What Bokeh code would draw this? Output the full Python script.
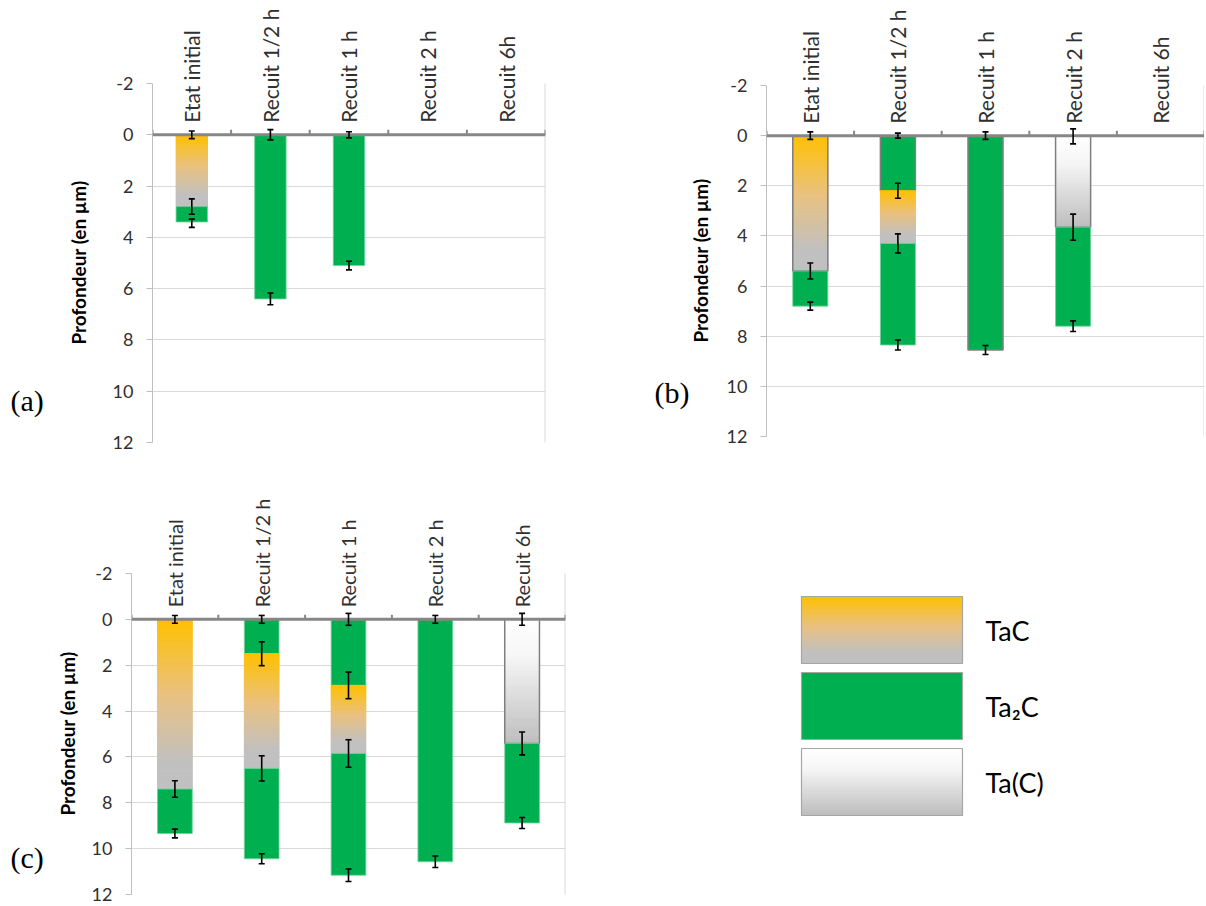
import numpy as np
from math import pi
from bokeh.plotting import figure
from bokeh.models import (Range1d, FixedTicker, Span, LabelSet,
                          ColumnDataSource, Whisker, TeeHead)
from bokeh.layouts import column, row
from bokeh.embed import file_html
from bokeh.resources import INLINE
from bokeh.core.properties import value

# ---------------- data ----------------
categories = ["Etat initial", "Recuit 1/2 h", "Recuit 1 h", "Recuit 2 h", "Recuit 6h"]
depth_ticks = [-2, 0, 2, 4, 6, 8, 10, 12]
depth_label = "Profondeur (en \u00b5m)"
phases = ["TaC", "Ta2C", "Ta(C)"]
phase_labels = ["TaC", "Ta\u2082C", "Ta(C)"]
panel_tags = ["(a)", "(b)", "(c)"]

# (a)
a_layer_cat = [0, 0, 1, 2]
a_layer_phase = ["TaC", "Ta2C", "Ta2C", "Ta2C"]
a_layer_top = [0.0, 2.8, 0.0, 0.0]
a_layer_bottom = [2.8, 3.4, 6.4, 5.1]
a_err_cat = [0, 0, 0, 1, 1, 2, 2]
a_err_depth = [0.0, 2.8, 3.45, 0.0, 6.4, 0.0, 5.1]
a_err_size = [0.15, 0.3, 0.16, 0.2, 0.23, 0.12, 0.17]

# (b)
b_layer_cat = [0, 0, 1, 1, 1, 2, 3, 3]
b_layer_phase = ["TaC", "Ta2C", "Ta2C", "TaC", "Ta2C", "Ta2C", "Ta(C)", "Ta2C"]
b_layer_top = [0.0, 5.4, 0.0, 2.2, 4.3, 0.0, 0.0, 3.65]
b_layer_bottom = [5.4, 6.8, 2.2, 4.3, 8.35, 8.55, 3.65, 7.6]
b_err_cat = [0, 0, 0, 1, 1, 1, 1, 2, 2, 3, 3, 3]
b_err_depth = [0.0, 5.4, 6.8, 0.0, 2.2, 4.3, 8.35, 0.0, 8.55, 0.03, 3.65, 7.6]
b_err_size = [0.15, 0.32, 0.16, 0.1, 0.3, 0.38, 0.2, 0.15, 0.18, 0.3, 0.52, 0.21]

# (c)
c_layer_cat = [0, 0, 1, 1, 1, 2, 2, 2, 3, 4, 4]
c_layer_phase = ["TaC", "Ta2C", "Ta2C", "TaC", "Ta2C", "Ta2C", "TaC", "Ta2C",
                 "Ta2C", "Ta(C)", "Ta2C"]
c_layer_top = [0.0, 7.4, 0.0, 1.5, 6.5, 0.0, 2.88, 5.85, 0.0, 0.0, 5.41]
c_layer_bottom = [7.4, 9.34, 1.5, 6.5, 10.44, 2.88, 5.85, 11.16, 10.57, 5.41, 8.88]
c_err_cat = [0, 0, 0, 1, 1, 1, 1, 2, 2, 2, 2, 3, 3, 4, 4, 4]
c_err_depth = [0.0, 7.4, 9.34, 0.0, 1.5, 6.5, 10.44, 0.0, 2.88, 5.85, 11.16,
               0.0, 10.57, 0.0, 5.41, 8.88]
c_err_size = [0.17, 0.36, 0.19, 0.17, 0.52, 0.55, 0.22, 0.26, 0.58, 0.6, 0.27,
              0.17, 0.25, 0.26, 0.5, 0.24]

# ---------------- styles ----------------
a_layer_outline = [False, False, False, False]
b_layer_outline = [True, False, True, False, False, True, True, False]
c_layer_outline = [False, False, False, False, False, False, False, False,
                   False, True, False]

GREEN = "#00B050"
GRAD = {
    "TaC": [(0.0, (255, 192, 0)), (0.45, (233, 193, 130)),
            (0.85, (192, 192, 192)), (1.0, (192, 192, 192))],
    "Ta(C)": [(0.0, (255, 255, 255)), (0.3, (246, 246, 246)),
              (1.0, (190, 190, 190))],
}
FONT = "Lato"
TXT = "#303030"
BAR_W = 0.4
NSLICE = 90


def grad_color(stops, t):
    for (t0, c0), (t1, c1) in zip(stops[:-1], stops[1:]):
        if t <= t1:
            f = 0.0 if t1 == t0 else (t - t0) / (t1 - t0)
            rgb = [round(a + (b - a) * f) for a, b in zip(c0, c1)]
            return "#%02x%02x%02x" % tuple(rgb)
    return "#%02x%02x%02x" % stops[-1][1]


def grad_quads(p, left, right, top, bot, phase):
    edges = np.linspace(top, bot, NSLICE + 1)
    ts = (np.arange(NSLICE) + 0.5) / NSLICE
    cols = [grad_color(GRAD[phase], t) for t in ts]
    p.quad(left=[left] * NSLICE, right=[right] * NSLICE,
           top=list(edges[:-1]), bottom=list(edges[1:]),
           fill_color=cols, line_color=cols, line_width=1)


def draw_layer(p, xc, top, bot, phase, outline, w=BAR_W):
    left, right = xc - w / 2, xc + w / 2
    if phase == "Ta2C":
        p.quad(left=[left], right=[right], top=[top], bottom=[bot],
               fill_color=GREEN, line_color="#6fd39b" if not outline else None,
               line_width=0.8)
    else:
        grad_quads(p, left, right, top, bot, phase)
    if outline:
        p.quad(left=[left], right=[right], top=[top], bottom=[bot],
               fill_alpha=0, line_color="#7f7f7f", line_width=1.5)


def make_chart(lcat, lphase, ltop, lbot, lout, ecat, edepth, esize,
               width, bl, br, bt, fh, bb, cat_font):
    """bt: pixels from figure top to the -2 line; fh: pixels for -2..12."""
    n = len(categories)
    ppu = fh / (depth_ticks[-1] - depth_ticks[0])
    y_top = depth_ticks[0] - bt / ppu
    p = figure(width=width, height=bt + fh + bb, output_backend="svg",
               toolbar_location=None, x_range=Range1d(0, n),
               y_range=Range1d(depth_ticks[-1], y_top),
               x_axis_location=None, min_border_left=bl, min_border_right=br,
               min_border_top=0, min_border_bottom=bb)
    p.frame_align = False
    p.outline_line_color = None
    p.xgrid.visible = False
    p.ygrid.ticker = FixedTicker(ticks=depth_ticks[1:])
    p.ygrid.grid_line_color = "#d9d9d9"
    p.ygrid.grid_line_width = 1
    ax = p.yaxis[0]
    ax.bounds = (depth_ticks[0], depth_ticks[-1])
    ax.ticker = FixedTicker(ticks=depth_ticks)
    ax.major_label_overrides = {t: str(t) for t in depth_ticks}
    ax.axis_line_color = "#bfbfbf"
    ax.major_tick_line_color = "#bfbfbf"
    ax.major_tick_out = 6
    ax.major_tick_in = 0
    ax.minor_tick_line_color = None
    ax.major_label_text_font = FONT
    ax.major_label_text_font_size = "18px"
    ax.major_label_text_color = TXT
    ax.major_label_standoff = 13

    # right border of the plot area
    p.segment(x0=[n], y0=[depth_ticks[0]], x1=[n], y1=[depth_ticks[-1]],
              line_color="#d9d9d9", line_width=2)

    for c, ph, t, b, o in zip(lcat, lphase, ltop, lbot, lout):
        draw_layer(p, c + 0.5, t, b, ph, o)

    # zero axis line with category boundary ticks
    p.add_layout(Span(location=0, dimension="width", line_color="#868686",
                      line_width=3))
    bounds = list(range(n + 1))
    p.segment(x0=bounds, y0=[0] * len(bounds), x1=bounds,
              y1=[-0.2] * len(bounds), line_color="#868686", line_width=2)

    # error bars
    src = ColumnDataSource(dict(
        x=[c + 0.5 for c in ecat],
        lo=[d - e for d, e in zip(edepth, esize)],
        hi=[d + e for d, e in zip(edepth, esize)]))
    p.add_layout(Whisker(source=src, base="x", lower="lo", upper="hi",
                         level="overlay",
                         line_color="black", line_width=1.6,
                         lower_head=TeeHead(size=6, line_width=1.6, line_color="black"),
                         upper_head=TeeHead(size=6, line_width=1.6, line_color="black")))

    # category labels, written upward above the zero line
    lsrc = ColumnDataSource(dict(x=[i + 0.5 for i in range(n)], y=[0] * n,
                                 text=categories))
    p.add_layout(LabelSet(source=lsrc, x="x", y="y", text="text", angle=pi / 2,
                          text_align="left", text_baseline="middle", y_offset=12,
                          text_font=value(FONT), text_font_size=value(cat_font),
                          text_color=TXT))
    return p


def make_side(tag, width, height, tag_xy, ylab_xy):
    """Side panel holding the panel tag and the rotated depth-axis title."""
    t = figure(width=width, height=height, output_backend="svg",
               toolbar_location=None, x_range=Range1d(0, width),
               y_range=Range1d(height, 0), x_axis_location=None,
               y_axis_location=None, min_border=0)
    t.frame_align = False
    t.outline_line_color = None
    t.grid.visible = False
    t.text(x=[tag_xy[0]], y=[tag_xy[1]], text=[tag],
           text_font=value("Liberation Serif"), text_font_size=value("30px"),
           text_baseline="middle", text_align="left", text_color="black")
    t.text(x=[ylab_xy[0]], y=[ylab_xy[1]], text=[depth_label], angle=pi / 2,
           text_font=value(FONT), text_font_size=value("19px"),
           text_font_style="bold", text_baseline="middle", text_align="center",
           text_color="black")
    return t


ROW1_H, ROW2_H = 460, 446

fa = make_chart(a_layer_cat, a_layer_phase, a_layer_top, a_layer_bottom,
                a_layer_outline, a_err_cat, a_err_depth, a_err_size,
                490, 52, 45, 83, 359, 18, "21px")
fb = make_chart(b_layer_cat, b_layer_phase, b_layer_top, b_layer_bottom,
                b_layer_outline, b_err_cat, b_err_depth, b_err_size,
                484, 46, 0, 85, 351, 24, "21px")
fc = make_chart(c_layer_cat, c_layer_phase, c_layer_top, c_layer_bottom,
                c_layer_outline, c_err_cat, c_err_depth, c_err_size,
                516, 47, 35, 113, 321, 12, "20px")

sa = make_side(panel_tags[0], 100, ROW1_H, (10, 400), (78, 262))
sb = make_side(panel_tags[1], 130, ROW1_H, (64, 392), (110, 260))
sc = make_side(panel_tags[2], 84, ROW2_H, (10, 397), (67, 273))

# ---------------- legend panel ----------------
LW, LH = 604, ROW2_H
leg = figure(width=LW, height=LH, output_backend="svg", toolbar_location=None,
             x_range=Range1d(0, LW), y_range=Range1d(LH, 0),
             x_axis_location=None, y_axis_location=None, min_border=0)
leg.frame_align = False
leg.outline_line_color = None
leg.grid.visible = False
box_x, box_w, box_h, box_gap, box_y0 = 201, 161, 67, 9, 136
for i, ph in enumerate(phases):
    y0 = box_y0 + i * (box_h + box_gap)
    if ph == "Ta2C":
        leg.quad(left=[box_x], right=[box_x + box_w], top=[y0], bottom=[y0 + box_h],
                 fill_color=GREEN, line_color=None)
    else:
        grad_quads(leg, box_x, box_x + box_w, y0, y0 + box_h, ph)
    leg.quad(left=[box_x], right=[box_x + box_w], top=[y0], bottom=[y0 + box_h],
             fill_alpha=0, line_color="#a6a6a6", line_width=1.2)
leg.text(x=[box_x + box_w + 23] * 3,
         y=[box_y0 + i * (box_h + box_gap) + box_h / 2 for i in range(3)],
         text=phase_labels, text_font=value(FONT), text_font_size=value("27px"),
         text_baseline="middle", text_align="left", text_color="#000000")

layout = column(row(sa, fa, sb, fb), row(sc, fc, leg))
open("out.html", "w").write(file_html(layout, INLINE))
